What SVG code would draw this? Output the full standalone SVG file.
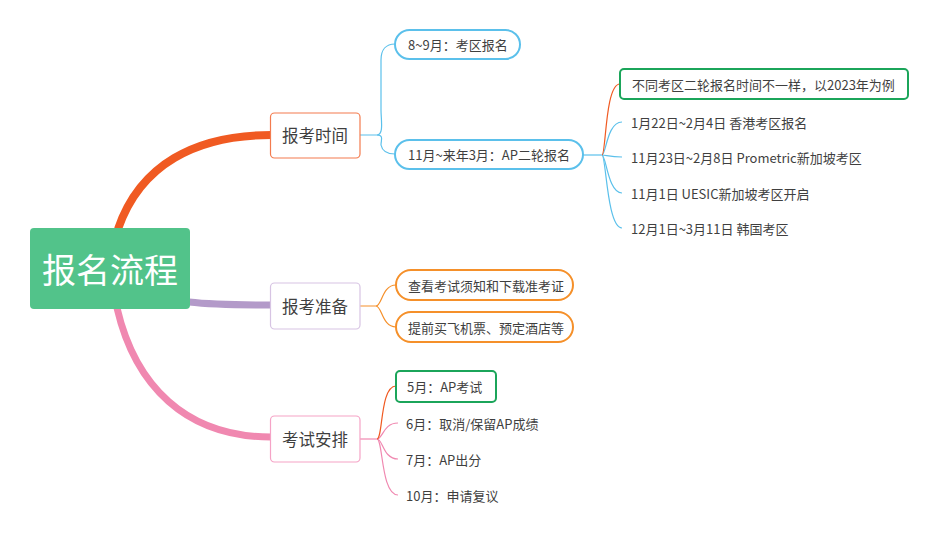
<svg xmlns="http://www.w3.org/2000/svg" width="937" height="537" viewBox="0 0 937 537">
<style>
text{font-family:"Microsoft YaHei","Noto Sans CJK SC","Noto Sans",sans-serif;fill:#3f3f3f;dominant-baseline:central}
.t13{font-size:13px}
.t16{font-size:16.5px;text-anchor:middle}
.pill{fill:#fff;stroke-width:2}
.thin{fill:none;stroke-width:1.2}
</style>
<rect width="937" height="537" fill="#fff"/>
<g id="connectors">
<path d="M118,229 C140,165 195,135 271,135" fill="none" stroke="#F05A22" stroke-width="8"/>
<path d="M189,302 C215,305 240,305 271,305" fill="none" stroke="#B39AC9" stroke-width="7"/>
<path d="M117,308 C135,385 185,437 271,437" fill="none" stroke="#F088B0" stroke-width="7"/>
<g class="thin" stroke="#5BC0EB">
<path d="M360,135 L377,135 C384,135 381,120 381,110 L381,60 C381,50 386,44 395,44"/>
<path d="M377,135 C384,135 381,140 381,145 C382,150 386,154 395,154"/>
<path d="M583,155 L602,155"/>
<path d="M602,155 C606,155 607,122 622,122"/>
<path d="M602,155 C606,155 610,157 622,157"/>
<path d="M602,155 C606,155 608,193 622,193"/>
<path d="M602,155 C606,155 607,228 622,228"/>
</g>
<path class="thin" stroke="#F05A22" d="M602,155 C606,155 605,84 620,84"/>
<g class="thin" stroke="#F5902A">
<path d="M360,306 L376,306 C382,306 382,285 396,285"/>
<path d="M376,306 C382,306 382,327 396,327"/>
</g>
<g class="thin" stroke="#F088B0">
<path d="M360,439 L377,439"/>
<path d="M377,439 C383,439 383,423 398,423"/>
<path d="M377,439 C383,439 383,459 398,459"/>
<path d="M377,439 C383,439 381,495 398,495"/>
</g>
<path class="thin" stroke="#F05A22" d="M377,439 C383,439 380,386 396,386"/>
</g>
<g id="root">
<rect x="30" y="228" width="160" height="81" rx="4" fill="#52C38A"/>
<text x="110" y="268" style="font-size:34px;text-anchor:middle;fill:#fff">报名流程</text>
</g>
<g id="n-time">
<rect x="270.5" y="113" width="89.5" height="45" rx="4" fill="#fff" stroke="#F37B4E" stroke-width="1.2"/>
<text class="t16" x="315" y="135">报考时间</text>
</g>
<g id="n-prep">
<rect x="270.5" y="283" width="89.5" height="46" rx="4" fill="#fff" stroke="#D7C4E3" stroke-width="1.2"/>
<text class="t16" x="315" y="306">报考准备</text>
</g>
<g id="n-exam">
<rect x="270.5" y="416" width="89.5" height="46" rx="4" fill="#fff" stroke="#F5A3C6" stroke-width="1.2"/>
<text class="t16" x="315" y="439">考试安排</text>
</g>
<g id="t1">
<rect class="pill" x="395" y="30" width="125" height="29" rx="14.5" stroke="#5BC0EB"/>
<text class="t13" x="408" y="44.5">8~9月：考区报名</text>
</g>
<g id="t2">
<rect class="pill" x="395" y="140" width="188" height="29" rx="14.5" stroke="#5BC0EB"/>
<text class="t13" x="408" y="154.5">11月~来年3月：AP二轮报名</text>
</g>
<g id="t2a">
<rect class="pill" x="620" y="69" width="288" height="30" rx="4" stroke="#1BA55A"/>
<text class="t13" x="632" y="84">不同考区二轮报名时间不一样，以2023年为例</text>
</g>
<g id="t2b"><text class="t13" x="631" y="122">1月22日~2月4日 香港考区报名</text></g>
<g id="t2c"><text class="t13" x="631" y="157">11月23日~2月8日 Prometric新加坡考区</text></g>
<g id="t2d"><text class="t13" x="631" y="193">11月1日  UESIC新加坡考区开启</text></g>
<g id="t2e"><text class="t13" x="631" y="228">12月1日~3月11日 韩国考区</text></g>
<g id="p1">
<rect class="pill" x="396" y="270" width="177" height="30" rx="15" stroke="#F5902A"/>
<text class="t13" x="408" y="285">查看考试须知和下载准考证</text>
</g>
<g id="p2">
<rect class="pill" x="396" y="312" width="177" height="30" rx="15" stroke="#F5902A"/>
<text class="t13" x="408" y="327">提前买飞机票、预定酒店等</text>
</g>
<g id="e1">
<rect class="pill" x="396" y="371" width="100" height="31" rx="4" stroke="#1BA55A"/>
<text class="t13" x="407" y="386">5月：AP考试</text>
</g>
<g id="e2"><text class="t13" x="406" y="423">6月：取消/保留AP成绩</text></g>
<g id="e3"><text class="t13" x="406" y="459">7月：AP出分</text></g>
<g id="e4"><text class="t13" x="406" y="495">10月：申请复议</text></g>
</svg>
